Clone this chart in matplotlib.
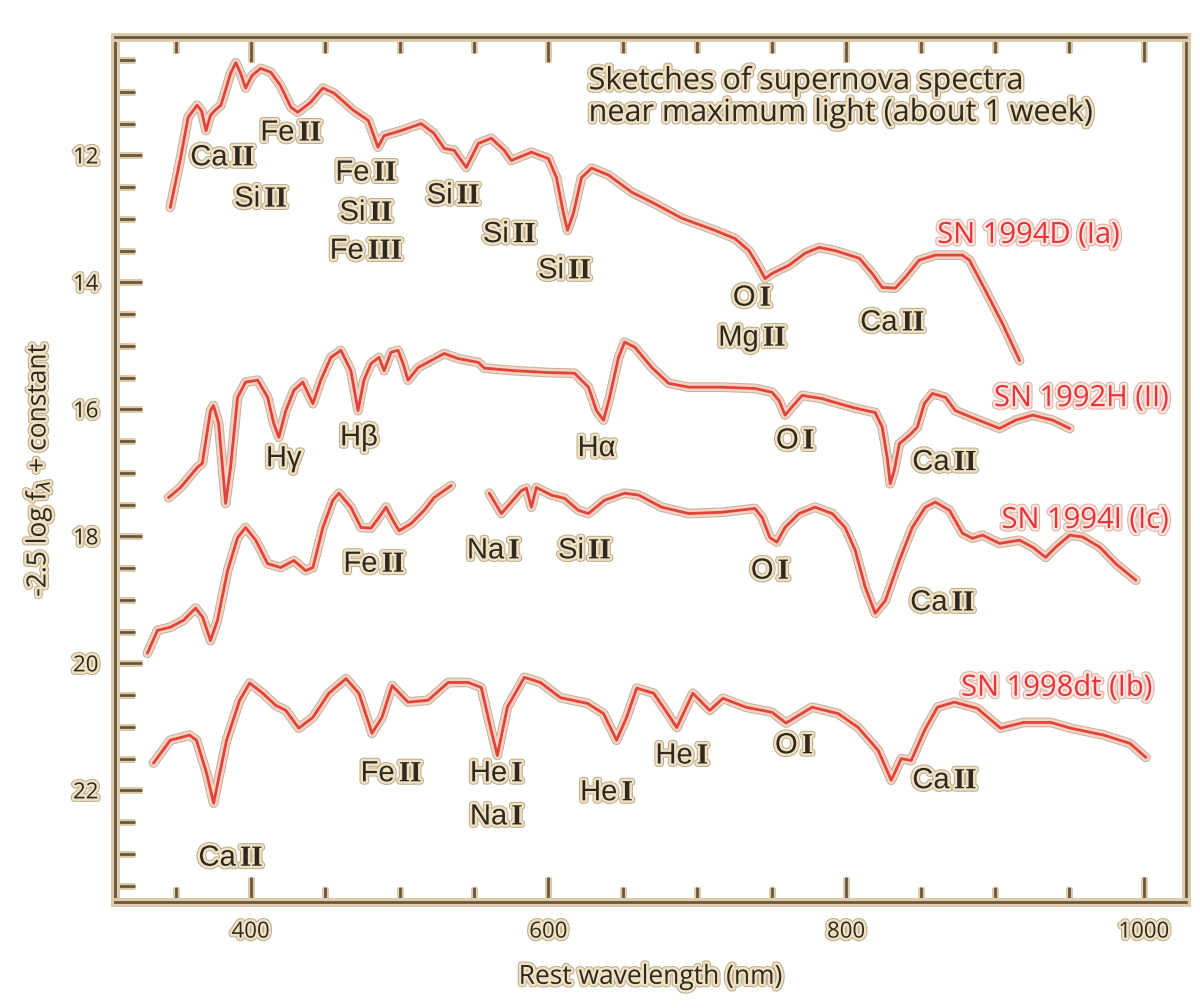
import matplotlib
matplotlib.use("Agg")
import matplotlib.pyplot as plt
import matplotlib.patheffects as pe
from matplotlib.ticker import MultipleLocator
from matplotlib.offsetbox import TextArea, HPacker, AnnotationBbox

# wavelength (nm) and -2.5 log f + const
sn94d_wl = [346, 353, 358, 364, 367, 370, 373, 376, 380, 386.5, 390, 393.3, 396.6, 401, 406.7, 413.5,
            420, 427, 431.6, 440, 448.5, 456, 469, 479, 485.5, 489.6, 501, 514.5, 523, 530, 536.7,
            544.8, 553, 561.6, 570.4, 575.1, 588.6, 600, 605.4, 610.1, 612.8, 616.8, 622.2, 629,
            640.4, 656, 671.4, 689.6, 711.8, 725.3, 734.7, 741.4, 745.5, 750.2, 761.6, 772.4, 781.8,
            792.6, 808.8, 817.5, 824.2, 833, 839.7, 849, 860, 878, 882.8, 893.6, 905, 916.5]
sn94d_m = [12.82, 12.03, 11.40, 11.21, 11.30, 11.61, 11.37, 11.29, 11.21, 10.71, 10.54, 10.71, 10.94,
           10.74, 10.63, 10.69, 10.90, 11.24, 11.32, 11.17, 10.94, 11.02, 11.29, 11.45, 11.87, 11.69,
           11.61, 11.50, 11.65, 11.89, 11.92, 12.19, 11.81, 11.73, 11.92, 12.08, 11.95, 12.05, 12.35,
           12.91, 13.18, 12.91, 12.35, 12.20, 12.31, 12.58, 12.76, 12.99, 13.18, 13.31, 13.50, 13.76,
           13.94, 13.86, 13.73, 13.54, 13.45, 13.50, 13.62, 13.86, 14.08, 14.09, 13.92, 13.65, 13.57,
           13.57, 13.65, 14.13, 14.65, 15.23]

sn92h_wl = [344.8, 352.9, 364.3, 367.5, 373, 375, 378.5, 383.2, 386.5, 391.2, 396.6, 404.7, 411.4,
            415.5, 418.9, 423.6, 429, 435, 441.8, 447.1, 453.9, 460.6, 467.3, 472.1, 476.1, 480.8,
            486.2, 489.6, 494.3, 499, 502.4, 505.7, 512.5, 521.2, 530, 539.4, 552.9, 556.9, 577.1,
            600, 617.5, 626.9, 632.3, 637, 641.1, 647.1, 651.2, 658, 669.4, 680.8, 694.3, 716.5,
            738.7, 750.2, 754.9, 759, 763.6, 770.4, 783.8, 795.3, 806.1, 819.5, 824.2, 827.6, 829.6,
            832.3, 835.7, 842.4, 847.8, 852.5, 857.9, 866.7, 873.4, 884.8, 903, 913.8, 925.3, 938.7,
            950.2]
sn92h_m = [17.39, 17.23, 16.91, 16.85, 16.02, 15.94, 16.22, 17.48, 16.91, 15.81, 15.57, 15.54, 15.81,
           16.22, 16.44, 16.02, 15.70, 15.57, 15.91, 15.54, 15.18, 15.07, 15.39, 16.02, 15.54, 15.28,
           15.18, 15.39, 15.10, 15.07, 15.28, 15.54, 15.34, 15.23, 15.12, 15.20, 15.26, 15.35, 15.39,
           15.42, 15.43, 15.65, 16.02, 16.17, 15.81, 15.18, 14.94, 15.02, 15.34, 15.59, 15.65, 15.65,
           15.67, 15.73, 15.86, 16.09, 15.96, 15.78, 15.83, 15.91, 15.98, 16.05, 16.28, 16.76, 17.17,
           16.96, 16.54, 16.41, 16.28, 15.91, 15.75, 15.81, 16.02, 16.13, 16.30, 16.17, 16.09, 16.17,
           16.30]

# SN 1994I has a gap between ~535 and ~560 nm
sn94i_wl_a = [330.6, 337.4, 346, 354.9, 363, 367.7, 373, 377.7, 384.5, 391.2, 396.6, 403.4, 411.4,
              420.2, 429, 437, 441.8, 448.5, 455.2, 459.3, 467.3, 474.1, 480.8, 486.2, 490.9, 495.6,
              499.7, 507.7, 516.5, 523.2, 534.7]
sn94i_m_a = [19.84, 19.48, 19.43, 19.32, 19.13, 19.27, 19.64, 19.32, 18.54, 18.02, 17.86, 18.06, 18.43,
             18.49, 18.38, 18.54, 18.49, 17.86, 17.43, 17.32, 17.54, 17.86, 17.87, 17.70, 17.54, 17.75,
             17.91, 17.80, 17.59, 17.39, 17.20]
sn94i_wl_b = [560.3, 568.4, 575.1, 581.8, 585.2, 588.6, 591.9, 602, 610.8, 620.2, 626.9, 637.7, 651.2,
              660.6, 676.1, 694.3, 716.5, 738.7, 743.5, 748.8, 753.5, 758.9, 768.4, 779.1, 790.6,
              799.3, 806.1, 812.8, 819.5, 826.3, 835.7, 844.4, 853.2, 859.9, 869.4, 878.1, 884.8,
              891.6, 903, 916.5, 925.3, 934, 940.7, 950.2, 958.9, 970.4, 981.1, 994.6]
sn94i_m_b = [17.32, 17.64, 17.46, 17.28, 17.24, 17.54, 17.23, 17.35, 17.40, 17.59, 17.64, 17.43, 17.32,
             17.35, 17.54, 17.64, 17.62, 17.56, 17.70, 18.02, 18.09, 17.86, 17.64, 17.54, 17.64,
             17.86, 18.22, 18.80, 19.21, 19.01, 18.38, 17.86, 17.54, 17.46, 17.59, 17.95, 18.03,
             17.98, 18.11, 18.06, 18.17, 18.33, 18.17, 17.98, 18.01, 18.17, 18.43, 18.69]

sn98dt_wl = [334.7, 346, 358.9, 363.6, 370.4, 375.1, 383.8, 392.6, 399.3, 408.1, 416.8, 423.6, 432.3,
             441.8, 452.5, 464, 472.7, 481.5, 488.2, 495, 505.7, 519.2, 532.7, 546.1, 554.9, 561.6,
             565.7, 572.4, 583.8, 594.6, 608.1, 626.3, 637, 645.8, 652.5, 659.3, 670.7, 679.5, 686.2,
             697, 708.4, 717.2, 732.7, 750.2, 759.6, 777.1, 794.6, 808.1, 821.5, 830.3, 837, 843.7,
             852.5, 861.3, 872.7, 888.2, 903.7, 919.2, 937.4, 950.8, 973.1, 990.6, 1001.3]
sn98dt_m = [21.57, 21.21, 21.13, 21.21, 21.73, 22.20, 21.21, 20.58, 20.31, 20.47, 20.66, 20.74, 21.02,
            20.85, 20.47, 20.24, 20.47, 21.10, 20.85, 20.35, 20.61, 20.58, 20.30, 20.30, 20.38, 21.06,
            21.45, 20.69, 20.22, 20.30, 20.54, 20.63, 20.79, 21.21, 20.85, 20.39, 20.47, 20.77, 21.01,
            20.47, 20.74, 20.55, 20.69, 20.77, 20.94, 20.69, 20.79, 21.01, 21.37, 21.84, 21.50, 21.53,
            21.06, 20.69, 20.61, 20.71, 21.02, 20.93, 20.93, 21.02, 21.13, 21.26, 21.48]

sn_names = ["SN 1994D (Ia)", "SN 1992H (II)", "SN 1994I (Ic)", "SN 1998dt (Ib)"]
sn_name_pos = [(984, 13.26), (1017, 15.83), (1017, 17.75), (1006, 20.39)]

line_ids = ["Ca II", "Fe II", "Si II", "Fe II", "Si II", "Fe III", "Si II", "Si II", "Si II",
            "O I", "Mg II", "Ca II",
            "H\u03b3", "H\u03b2", "H\u03b1", "O I", "Ca II",
            "Fe II", "Na I", "Si II", "O I", "Ca II",
            "Fe II", "He I", "Na I", "He I", "He I", "O I", "Ca II", "Ca II"]
line_id_pos = [(381, 12.03), (427, 11.64), (406.7, 12.68), (477.4, 12.27), (477.4, 12.90),
               (477.4, 13.50), (536, 12.63), (573.7, 13.24), (610.8, 13.81),
               (736.7, 14.24), (736.7, 14.87), (831, 14.63),
               (422.2, 16.77), (472.7, 16.44), (632.3, 16.61), (765.7, 16.49), (866, 16.83),
               (482.8, 18.43), (563, 18.22), (624.2, 18.22), (748.8, 18.54), (864.6, 19.04),
               (494.3, 21.73), (565, 21.73), (565, 22.41), (639, 22.03), (689.6, 21.45),
               (765, 21.29), (866, 21.84), (386.5, 23.06)]

brown = "#6b573e"
tan = "#dccbaa"
dark = "#2f281f"
txt_fx = [pe.Stroke(linewidth=5, foreground="#bfae8e"), pe.Stroke(linewidth=3.5, foreground="#efe2c4"), pe.Normal()]
red_fx = [pe.Stroke(linewidth=5, foreground="#deb0a6"), pe.Stroke(linewidth=3.5, foreground="#fbe6de"), pe.Normal()]
curve_fx = [pe.Stroke(linewidth=7, foreground="#c5b2a0"), pe.Stroke(linewidth=5.5, foreground="#f6d2c3"), pe.Normal()]
frame_fx = [pe.Stroke(linewidth=6.5, foreground=tan), pe.Normal()]

fig = plt.figure(figsize=(12, 10.08), dpi=100)
ax = fig.add_axes([0.096, 0.105, 0.892, 0.858])

for wl, m in [(sn94d_wl, sn94d_m), (sn92h_wl, sn92h_m), (sn94i_wl_a, sn94i_m_a),
              (sn94i_wl_b, sn94i_m_b), (sn98dt_wl, sn98dt_m)]:
    ln, = ax.plot(wl, m, color="#e0433a", lw=2, solid_joinstyle="round", solid_capstyle="round")
    ln.set_path_effects(curve_fx)

ax.set_xlim(309, 1028)
ax.set_ylim(23.76, 10.14)

ax.xaxis.set_major_locator(MultipleLocator(200))
ax.xaxis.set_minor_locator(MultipleLocator(50))
ax.yaxis.set_major_locator(MultipleLocator(2))
ax.yaxis.set_minor_locator(MultipleLocator(0.5))
ax.tick_params(which="both", direction="in", top=True, right=False, color=brown, width=2,
               labelsize=16, labelcolor=dark, pad=14)
ax.tick_params(which="major", length=18)
ax.tick_params(which="minor", length=11)
ax.tick_params(axis="y", which="major", length=19, pad=12)
ax.tick_params(axis="y", which="minor", length=14)
for t in ax.xaxis.get_ticklines(minor=True) + ax.xaxis.get_ticklines() + \
        ax.yaxis.get_ticklines(minor=True) + ax.yaxis.get_ticklines():
    t.set_path_effects([pe.Stroke(linewidth=5, foreground=tan), pe.Normal()])
for lab in ax.get_xticklabels() + ax.get_yticklabels():
    lab.set_fontfamily("Open Sans")
    lab.set_path_effects(txt_fx)

for sp in ax.spines.values():
    sp.set_color(brown)
    sp.set_linewidth(2)
    sp.set_path_effects(frame_fx)

ax.set_xlabel("Rest wavelength (nm)", fontsize=19, family="Open Sans", color=dark,
              labelpad=16, path_effects=txt_fx)
ax.set_ylabel(r"-2.5 log f$_\lambda$ + constant", fontsize=19, family="Open Sans",
              color=dark, labelpad=14, path_effects=txt_fx)

ax.text(627, 10.58, "Sketches of supernova spectra\nnear maximum light (about 1 week)",
        fontsize=22, family="Open Sans", color=dark, ha="left", va="top",
        linespacing=1.08, path_effects=txt_fx)

for name, (x, y) in zip(sn_names, sn_name_pos):
    ax.text(x, y, name, fontsize=21, family="Open Sans", color="#e8323c", ha="right",
            va="center", path_effects=red_fx)

# ion labels: element in sans, ionisation stage in bold serif
for name, (x, y) in zip(line_ids, line_id_pos):
    parts = name.split(" ")
    boxes = [TextArea(parts[0], textprops=dict(fontsize=21, family="Liberation Sans",
                                               color=dark, path_effects=txt_fx))]
    if len(parts) > 1:
        boxes.append(TextArea(parts[1], textprops=dict(fontsize=21, family="Liberation Serif",
                                                       weight="bold", color=dark,
                                                       path_effects=txt_fx)))
    pack = HPacker(children=boxes, align="baseline", pad=0, sep=3)
    ab = AnnotationBbox(pack, (x, y), xycoords="data", frameon=False, pad=0,
                        box_alignment=(0.5, 0.5), annotation_clip=False)
    ax.add_artist(ab)

fig.savefig("out.png", dpi=100, facecolor="white")
